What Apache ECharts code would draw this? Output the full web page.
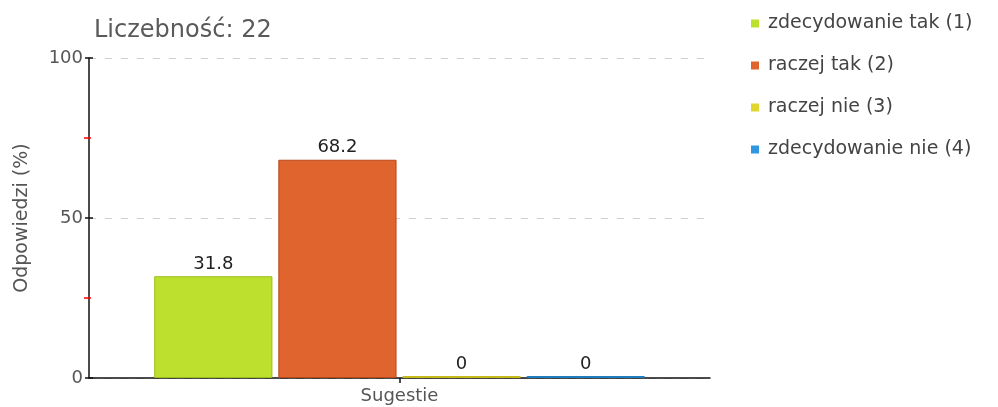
<!DOCTYPE html>
<html>
<head>
<meta charset="utf-8">
<script src="https://cdn.jsdelivr.net/npm/echarts@6/dist/echarts.min.js"></script>
<style>html,body{margin:0;padding:0;background:#fff}#c{width:998px;height:407px}</style>
</head>
<body>
<div id="c"></div>
<script>
var categories = ['Sugestie'];
var seriesNames = ['zdecydowanie tak (1)', 'raczej tak (2)', 'raczej nie (3)', 'zdecydowanie nie (4)'];
var values1 = [31.8];
var values2 = [68.2];
var values3 = [0];
var values4 = [0];
var fills = ['#bde02f', '#e0642e', '#e0d62e', '#2e97e0'];
var borders = ['#9cbc18', '#b8471a', '#c4ba18', '#1f7cc0'];
var allValues = [values1, values2, values3, values4];

var chart = echarts.init(document.getElementById('c'), null, {renderer: 'canvas'});
var FONT = 'DejaVu Sans';
var series = seriesNames.map(function (n, i) {
  return {
    name: n,
    type: 'bar',
    data: allValues[i],
    barGap: '5%',
    barCategoryGap: '21%',
    barMinHeight: 2,
    itemStyle: {color: fills[i], borderColor: borders[i], borderWidth: 1},
    label: {show: true, position: 'top', distance: 3, color: '#222', fontFamily: FONT, fontSize: 18},
    emphasis: {disabled: true}
  };
});

chart.setOption({
  animation: false,
  title: {
    text: 'Liczebność: 22', left: 89, top: 14,
    textStyle: {color: '#5a5a5a', fontWeight: 'normal', fontFamily: FONT, fontSize: 24}
  },
  legend: {
    orient: 'vertical', left: 746, top: 9,
    itemWidth: 8, itemHeight: 8, itemGap: 23, icon: 'rect',
    itemStyle: {borderWidth: 0},
    textStyle: {color: '#444', fontFamily: FONT, fontSize: 19, padding: [0, 0, 0, 4]},
    data: seriesNames
  },
  grid: {left: 89, right: 288, top: 58, bottom: 29, containLabel: false},
  xAxis: {
    type: 'category', data: categories,
    axisLine: {lineStyle: {color: '#111', width: 1.5}},
    axisTick: {show: true, alignWithLabel: true, length: 5, lineStyle: {color: '#111', width: 1.5}},
    axisLabel: {color: '#555', fontFamily: FONT, fontSize: 18, margin: 9}
  },
  yAxis: [{
    type: 'value', min: 0, max: 100, interval: 50,
    name: 'Odpowiedzi (%)', nameLocation: 'middle', nameGap: 57, nameRotate: 90,
    nameTextStyle: {color: '#555', fontFamily: FONT, fontSize: 19},
    axisLine: {show: true, lineStyle: {color: '#111', width: 1.5}},
    axisTick: {show: true, length: 4, lineStyle: {color: '#111', width: 1.5}},
    minorTick: {show: true, splitNumber: 2, length: 5, lineStyle: {color: '#ff0000', width: 1.5}},
    axisLabel: {color: '#555', fontFamily: FONT, fontSize: 18, margin: 6},
    splitLine: {show: true, lineStyle: {color: '#d0d0d0', type: [7, 9], width: 1.2}}
  }, {
    type: 'value', min: 0, max: 100, interval: 50, position: 'left',
    axisLine: {show: false},
    axisTick: {show: true, inside: true, length: 4, lineStyle: {color: '#111', width: 1.5}},
    minorTick: {show: true, splitNumber: 2, length: 2, lineStyle: {color: '#ff0000', width: 1.5}},
    axisLabel: {show: false},
    splitLine: {show: false}
  }],
  series: series
});
</script>
</body>
</html>
